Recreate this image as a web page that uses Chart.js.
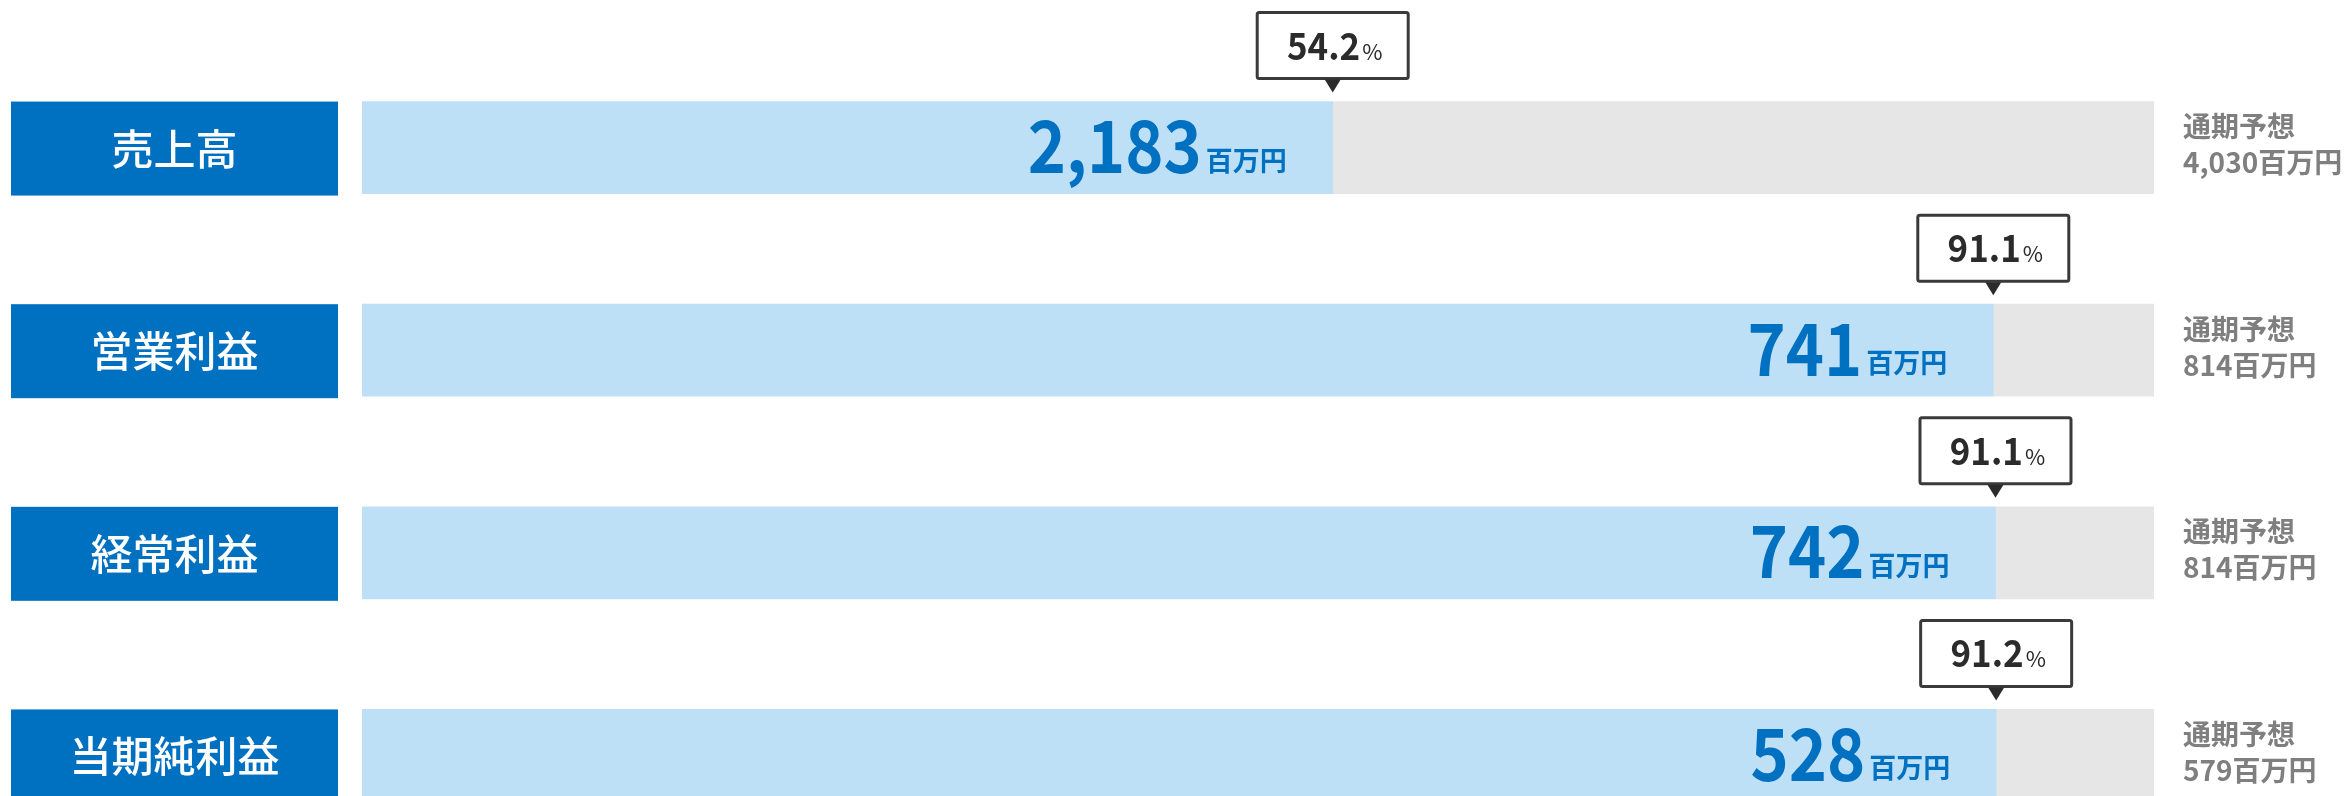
<!DOCTYPE html>
<html>
<head>
<meta charset="utf-8">
<script src="https://cdn.jsdelivr.net/npm/chart.js@4/dist/chart.umd.min.js"></script>
<style>
html,body{margin:0;padding:0;background:#fff;overflow:hidden;}
#wrap{width:2351px;height:860px;}
</style>
</head>
<body>
<div id="wrap"><canvas id="c" width="2351" height="860"></canvas></div>
<script>
const categories = ['売上高', '営業利益', '経常利益', '当期純利益'];
const actualValues = [2183, 741, 742, 528];
const forecastValues = [4030, 814, 814, 579];
const achievementPct = ['54.2', '91.1', '91.1', '91.2'];
const unitLabel = '百万円';
const forecastLabel = '通期予想';

const achievedRatio = actualValues.map((v, i) => v / forecastValues[i] * 100);
const remainderRatio = achievedRatio.map(r => 100 - r);

const FONT = '"Noto Sans CJK JP", "Noto Sans", sans-serif';

const overlayPlugin = {
  id: 'overlay',
  afterDatasetsDraw(chart) {
    const ctx = chart.ctx;
    const xs = chart.scales.x, ys = chart.scales.y;
    const barH = 92;
    categories.forEach((cat, i) => {
      const cy = ys.getPixelForValue(i);
      const barTop = cy - barH / 2;
      const endX = xs.getPixelForValue(achievedRatio[i]);
      const right = xs.right;
      ctx.save();
      // label box
      ctx.fillStyle = '#0070c0';
      ctx.fillRect(11, barTop, 327, 94);
      ctx.fillStyle = '#ffffff';
      ctx.font = '500 42px ' + FONT;
      ctx.textAlign = 'center';
      ctx.textBaseline = 'middle';
      ctx.fillText(cat, 174.5, cy + 1);

      // value text
      ctx.textBaseline = 'alphabetic';
      ctx.textAlign = 'right';
      ctx.fillStyle = '#0070c0';
      ctx.font = 'bold 27px ' + FONT;
      const unitW = ctx.measureText(unitLabel).width;
      const valRight = endX - 46;
      ctx.fillText(unitLabel, valRight, cy + 23);
      ctx.font = 'bold 72px ' + FONT;
      const numRight = valRight - unitW - 4;
      const sx = 0.9;
      ctx.save();
      ctx.translate(numRight, cy + 25.5);
      ctx.scale(sx, 1);
      ctx.fillText(actualValues[i].toLocaleString('en-US'), 0, 0);
      ctx.restore();

      // callout
      const boxW = 151, boxH = 66;
      const boxBottom = barTop - 23;
      const boxTop = boxBottom - boxH;
      const bx = endX - boxW / 2;
      ctx.fillStyle = '#ffffff';
      ctx.strokeStyle = '#3a3a3a';
      ctx.lineWidth = 3;
      ctx.beginPath();
      ctx.roundRect(bx, boxTop, boxW, boxH, 2);
      ctx.fill();
      ctx.stroke();
      ctx.fillStyle = '#2b2b2b';
      ctx.beginPath();
      ctx.moveTo(endX - 8, boxBottom + 1);
      ctx.lineTo(endX + 8, boxBottom + 1);
      ctx.lineTo(endX, boxBottom + 14);
      ctx.closePath();
      ctx.fill();
      ctx.textAlign = 'left';
      ctx.font = 'bold 38px ' + FONT;
      const pctText = achievementPct[i];
      const nW = ctx.measureText(pctText).width * 0.92;
      ctx.font = '22px ' + FONT;
      const sW = ctx.measureText('%').width;
      const total = nW + 2 + sW;
      const tx = endX + 2 - total / 2;
      const base = boxTop + 47;
      ctx.font = 'bold 38px ' + FONT;
      ctx.save();
      ctx.translate(tx, base);
      ctx.scale(0.92, 1);
      ctx.fillText(pctText, 0, 0);
      ctx.restore();
      ctx.font = '22px ' + FONT;
      ctx.fillText('%', tx + nW + 2, base);

      // forecast text
      ctx.fillStyle = '#7f7f7f';
      ctx.font = 'bold 28px ' + FONT;
      ctx.textBaseline = 'middle';
      ctx.fillText(forecastLabel, right + 29, cy - 21);
      ctx.fillText(forecastValues[i].toLocaleString('en-US') + unitLabel, right + 29, cy + 15);
      ctx.restore();
    });
  }
};

new Chart(document.getElementById('c'), {
  type: 'bar',
  data: {
    labels: categories,
    datasets: [
      { label: '実績', data: achievedRatio, backgroundColor: '#bee0f7', barThickness: 92, borderWidth: 0 },
      { label: '残り', data: remainderRatio, backgroundColor: '#e6e6e6', barThickness: 92, borderWidth: 0 }
    ]
  },
  options: {
    indexAxis: 'y',
    responsive: false,
    devicePixelRatio: 1,
    animation: false,
    layout: { padding: { left: 362, right: 197, top: 46.25, bottom: 3.25 } },
    plugins: { legend: { display: false }, tooltip: { enabled: false } },
    scales: {
      x: { stacked: true, min: 0, max: 100, display: false },
      y: { stacked: true, display: false, offset: true }
    }
  },
  plugins: [overlayPlugin]
});
</script>
</body>
</html>
